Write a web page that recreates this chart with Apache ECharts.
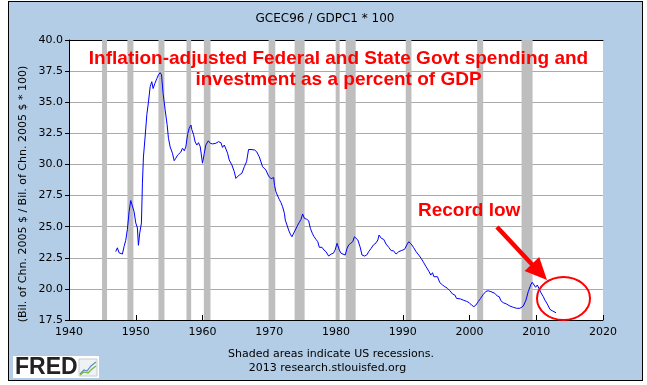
<!DOCTYPE html>
<html><head><meta charset="utf-8">
<script src="https://cdn.jsdelivr.net/npm/echarts@6/dist/echarts.min.js"></script>
<style>
html,body{margin:0;padding:0;background:#fff;}
#frame{position:absolute;left:8px;top:1px;width:633px;height:378px;background:#B4CDE6;border:1px solid #000;}
#chart{position:absolute;left:0;top:0;width:647px;height:385px;}
</style></head><body>
<div id="frame"></div><div id="chart"></div>
<script>
const years = [1947.0,1947.25,1947.5,1947.75,1948.0,1948.25,1948.5,1948.75,1949.0,1949.25,1949.5,1949.75,1950.0,1950.25,1950.4,1950.6,1950.85,1951.0,1951.15,1951.4,1951.66,1951.9,1952.16,1952.4,1952.6,1952.86,1953.16,1953.4,1953.66,1953.86,1954.1,1954.4,1954.7,1954.9,1955.16,1955.5,1955.76,1956.0,1956.27,1956.5,1956.76,1957.0,1957.27,1957.5,1957.76,1958.0,1958.27,1958.4,1958.66,1958.9,1959.16,1959.4,1959.66,1960.0,1960.27,1960.5,1960.87,1961.17,1961.5,1962.0,1962.4,1962.76,1963.0,1963.27,1963.5,1963.76,1964.0,1964.4,1964.76,1965.0,1965.27,1965.5,1965.9,1966.27,1966.6,1966.9,1967.27,1967.8,1968.1,1968.5,1969.0,1969.5,1969.9,1970.27,1970.5,1970.66,1970.8,1971.0,1971.27,1971.5,1971.76,1972.0,1972.27,1972.4,1972.66,1972.9,1973.16,1973.4,1973.66,1973.9,1974.27,1974.5,1974.76,1975.0,1975.27,1975.6,1975.9,1976.16,1976.45,1976.7,1977.0,1977.27,1977.5,1977.9,1978.2,1978.5,1978.76,1978.9,1979.27,1979.6,1979.86,1980.16,1980.5,1980.76,1981.0,1981.38,1981.66,1981.9,1982.2,1982.5,1982.76,1983.0,1983.27,1983.6,1983.9,1984.27,1984.6,1984.9,1985.27,1985.6,1986.0,1986.27,1986.45,1986.8,1987.15,1987.5,1987.9,1988.27,1988.6,1989.0,1989.4,1989.76,1990.27,1990.6,1990.9,1991.27,1991.6,1992.0,1992.4,1992.76,1993.15,1993.5,1993.95,1994.2,1994.46,1994.66,1994.9,1995.2,1995.56,1995.96,1996.3,1996.7,1997.06,1997.46,1997.8,1998.06,1998.3,1998.66,1999.06,1999.56,1999.96,2000.3,2000.66,2000.96,2001.3,2001.66,2002.06,2002.46,2002.8,2003.0,2003.2,2003.46,2003.8,2004.16,2004.46,2004.7,2005.06,2005.56,2006.06,2006.56,2007.06,2007.56,2008.06,2008.46,2008.8,2009.16,2009.4,2009.66,2009.9,2010.16,2010.4,2010.7,2011.06,2011.3,2011.66,2012.06,2012.4,2012.66,2012.96];
const values = [23.0,23.3,22.9,22.85,22.8,23.4,23.9,24.8,26.2,27.1,27.1,26.2,25.3,24.9,23.5,24.5,25.3,28.5,30.6,32.2,34.0,35.0,36.25,36.65,36.1,36.5,36.9,37.2,37.37,37.2,35.7,34.4,33.2,32.1,31.4,30.9,30.3,30.5,30.75,30.9,31.0,31.3,31.1,31.4,32.4,32.9,33.17,32.8,32.4,31.8,31.56,31.75,31.43,30.1,30.9,31.56,31.9,31.7,31.65,31.7,31.83,31.75,31.37,31.56,31.43,30.9,30.36,29.96,29.42,28.88,28.88,29.15,29.29,29.82,30.22,31.2,31.2,31.16,31.03,30.62,29.82,29.55,29.07,28.85,28.75,28.95,28.3,27.8,27.46,27.19,26.93,26.6,26.07,25.53,25.13,24.73,24.4,24.19,24.06,24.73,25.13,25.35,25.59,26.02,25.67,25.6,25.48,24.87,24.47,24.2,23.98,23.79,23.34,23.34,23.12,22.99,22.9,22.64,22.8,22.86,23.12,23.66,23.12,22.86,22.99,22.72,23.26,23.53,23.66,23.79,24.19,24.06,23.93,23.39,22.72,22.64,22.72,22.99,23.26,23.53,23.7,23.93,24.33,24.06,23.98,23.6,23.34,23.07,23.07,22.8,22.99,23.07,23.18,23.53,23.79,23.6,23.34,22.99,22.72,22.45,22.1,21.78,21.38,21.11,21.3,20.98,21.0,20.98,20.5,20.31,20.18,20.05,19.85,19.59,19.51,19.24,19.37,19.19,19.1,19.0,18.89,18.7,18.57,18.7,18.97,19.24,19.55,19.8,19.85,19.9,19.78,19.85,19.64,19.43,19.37,19.05,18.89,18.78,18.62,18.52,18.44,18.44,18.62,19.1,19.78,20.31,20.53,20.37,20.13,20.31,20.05,19.69,19.37,19.1,18.78,18.35,18.24,18.2,18.08];
const recessionStarts = [1944.95,1948.75,1953.4,1957.6,1960.2,1969.9,1973.8,1979.95,1981.45,1990.45,2001.15,2007.8];
const recessionEnds   = [1945.7,1949.65,1954.3,1958.3,1961.2,1970.9,1975.3,1980.55,1982.95,1991.3,2002.05,2009.45];
const titleText = 'GCEC96 / GDPC1 * 100';
const yAxisName = '(Bil. of Chn. 2005 $ / Bil. of Chn. 2005 $ * 100)';
const headline1 = 'Inflation-adjusted Federal and State Govt spending and';
const headline2 = 'investment as a percent of GDP';
const noteText = 'Record low';
const footer1 = 'Shaded areas indicate US recessions.';
const footer2 = '2013 research.stlouisfed.org';

const FONT = '"DejaVu Sans", Verdana, sans-serif';
const chart = echarts.init(document.getElementById('chart'), null, {renderer:'canvas'});
const option = {
  animation: false,
  backgroundColor: 'transparent',
  textStyle: {fontFamily: FONT},
  grid: {left: 69, top: 40, width: 534, height: 280, show: true, backgroundColor: '#fff', borderWidth: 0},
  xAxis: [{
    type: 'value', min: 1940, max: 2020, interval: 10,
    axisLine: {show: true, lineStyle: {color: '#000', width: 1}},
    axisTick: {show: true, inside: true, length: 5, lineStyle: {color: '#000'}},
    axisLabel: {color: '#000', fontSize: 11, margin: 7, fontFamily: FONT, formatter: v => String(v)},
    splitLine: {show: false}
  }, {
    type: 'value', position: 'top', min: 1940, max: 2020,
    axisLine: {show: true, lineStyle: {color: '#000', width: 1}},
    axisTick: {show: false}, axisLabel: {show: false}, splitLine: {show: false}
  }],
  yAxis: {
    type: 'value', min: 17.5, max: 40, interval: 2.5,
    axisLine: {show: true, lineStyle: {color: '#000', width: 1}},
    axisTick: {show: true, inside: false, length: 4, lineStyle: {color: '#000'}},
    axisLabel: {color: '#000', fontSize: 11, margin: 6, fontFamily: FONT, formatter: v => v.toFixed(1)},
    splitLine: {show: true, lineStyle: {color: '#AAAAAA', width: 1}}
  },
  series: [{
    type: 'line',
    xAxisIndex: 0,
    data: years.map((y, i) => [y, values[i]]),
    symbol: 'none',
    lineStyle: {color: '#0000FF', width: 1},
    z: 3,
    markArea: {
      silent: true,
      itemStyle: {color: '#BEBEBE', opacity: 1},
      data: recessionStarts.map((s, i) => [{xAxis: s}, {xAxis: recessionEnds[i]}])
    }
  }],
  graphic: [
    {type: 'text', x: 325, y: 19, z: 100, style: {text: titleText, font: '12px ' + FONT, fill: '#000', textAlign: 'center', textVerticalAlign: 'middle'}},
    {type: 'text', x: 22.7, y: 194, rotation: Math.PI / 2, z: 100, style: {text: yAxisName, font: '11px ' + FONT, fill: '#000', textAlign: 'center', textVerticalAlign: 'middle'}},
    {type: 'text', x: 338.5, y: 58.5, z: 100, style: {text: headline1, font: 'bold 19px "Liberation Sans", Arial, sans-serif', fill: '#FF0000', textAlign: 'center', textVerticalAlign: 'middle'}},
    {type: 'text', x: 338.5, y: 80, z: 100, style: {text: headline2, font: 'bold 19px "Liberation Sans", Arial, sans-serif', fill: '#FF0000', textAlign: 'center', textVerticalAlign: 'middle'}},
    {type: 'text', x: 418, y: 210.5, z: 100, style: {text: noteText, font: 'bold 19px "Liberation Sans", Arial, sans-serif', fill: '#FF0000', textAlign: 'left', textVerticalAlign: 'middle'}},
    {type: 'line', z: 100, shape: {x1: 497, y1: 227, x2: 534, y2: 266.5}, style: {stroke: '#FF0000', lineWidth: 4.5}},
    {type: 'polygon', z: 100, shape: {points: [[547, 280], [524.6, 270.9], [539.2, 257.1]]}, style: {fill: '#FF0000'}},
    {type: 'ellipse', z: 100, shape: {cx: 563.5, cy: 298.5, rx: 26.5, ry: 21.5}, style: {fill: 'none', stroke: '#FF0000', lineWidth: 2}},
    {type: 'text', x: 331, y: 354, z: 100, style: {text: footer1, font: '11px ' + FONT, fill: '#000', textAlign: 'center', textVerticalAlign: 'middle'}},
    {type: 'text', x: 327.5, y: 368.5, z: 100, style: {text: footer2, font: '11px ' + FONT, fill: '#000', textAlign: 'center', textVerticalAlign: 'middle'}},
    {type: 'rect', z: 100, shape: {x: 13, y: 356, width: 86, height: 22}, style: {fill: '#fff'}},
    {type: 'text', x: 15, y: 367.5, z: 101, style: {text: 'FRED', font: 'bold 23px "Liberation Sans", Arial, sans-serif', fill: '#222', textAlign: 'left', textVerticalAlign: 'middle'}},
    {type: 'rect', z: 101, shape: {x: 79, y: 359, width: 18, height: 17}, style: {fill: '#EEF2F4', stroke: '#C8CED2', lineWidth: 1}},
    {type: 'polyline', z: 102, shape: {points: [[80, 374], [84, 370], [87, 371], [91, 366], [96, 362]]}, style: {stroke: '#5A8FC8', lineWidth: 1.2, fill: 'none'}},
    {type: 'polyline', z: 102, shape: {points: [[80, 375], [84, 372], [88, 373], [92, 369], [96, 366]]}, style: {stroke: '#7CB342', lineWidth: 1.2, fill: 'none'}}
  ]
};
chart.setOption(option);
</script>
</body></html>
